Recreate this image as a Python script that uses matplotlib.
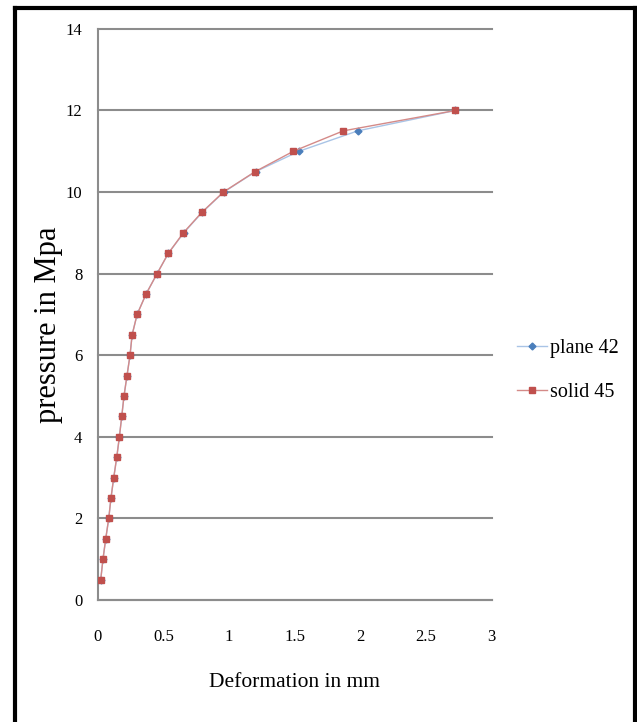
import matplotlib.pyplot as plt
from matplotlib.lines import Line2D

# pressure steps (Mpa)
pressure = [0.5, 1, 1.5, 2, 2.5, 3, 3.5, 4, 4.5, 5, 5.5, 6,
            6.5, 7, 7.5, 8, 8.5, 9, 9.5, 10, 10.5, 11, 11.5, 12]

# deformation (mm)
solid_45 = [0.023, 0.040, 0.061, 0.084, 0.101, 0.122, 0.145, 0.165,
            0.183, 0.200, 0.223, 0.246, 0.262, 0.300, 0.368, 0.452,
            0.538, 0.652, 0.792, 0.957, 1.198, 1.490, 1.870, 2.724]
plane_42 = [0.023, 0.040, 0.061, 0.084, 0.101, 0.122, 0.145, 0.165,
            0.183, 0.200, 0.223, 0.246, 0.262, 0.300, 0.368, 0.452,
            0.538, 0.655, 0.795, 0.960, 1.202, 1.533, 1.980, 2.724]

x_ticks = [0, 0.5, 1, 1.5, 2, 2.5, 3]
x_tick_labels = ['0', '0.5', '1', '1.5', '2', '2.5', '3']
y_ticks = [0, 2, 4, 6, 8, 10, 12, 14]

plt.rcParams['font.family'] = ['Liberation Serif', 'DejaVu Serif']

fig = plt.figure(figsize=(6.37, 7.22), dpi=100)
ax = fig.add_axes([0.1534, 0.169, 0.6185, 0.791])

grid_col = '#8c8c8c'
ax.plot(plane_42, pressure, color='#a9c4e6', linewidth=1.0, marker='D',
        markersize=3.5, markerfacecolor='#4a7ebb', markeredgecolor='#4a7ebb',
        label='plane 42', zorder=3)
ax.plot(solid_45, pressure, color='#d48a88', linewidth=1.0, marker='s',
        markersize=5, markerfacecolor='#c0504d', markeredgecolor='#c0504d',
        label='solid 45', zorder=4)

ax.set_xlim(0, 3)
ax.set_ylim(0, 14)
ax.set_xticks(x_ticks)
ax.set_xticklabels(x_tick_labels)
ax.set_yticks(y_ticks)
ax.tick_params(axis='both', length=0, labelsize=12)
ax.tick_params(axis='x', pad=21)
ax.tick_params(axis='y', pad=11)

ax.yaxis.grid(True, color=grid_col, linewidth=1.5)
for gl in ax.get_ygridlines():
    gl.set_clip_on(False)
ax.set_axisbelow(True)
for s in ['top', 'right']:
    ax.spines[s].set_visible(False)
for s in ['left', 'bottom']:
    ax.spines[s].set_color(grid_col)
    ax.spines[s].set_linewidth(1.5)

ax.set_xlabel('Deformation in mm', fontsize=15.5, va='center')
ax.xaxis.set_label_coords(0.5, -0.145)
ax.set_ylabel('pressure in Mpa', fontsize=22, va='center')
ax.yaxis.set_label_coords(-0.126, 0.482)

ax.legend(loc='center left', bbox_to_anchor=(1.065, 0.402), frameon=False,
          fontsize=14.5, handlelength=1.45, handletextpad=0.15,
          labelspacing=1.25, borderpad=0, borderaxespad=0)

# black frame around the picture (no bottom edge)
fig.add_artist(Line2D([0.0235, 0.0235], [0, 0.9895], color='black', linewidth=3))
fig.add_artist(Line2D([0.0235, 0.9976], [0.9895, 0.9895], color='black', linewidth=3))
fig.add_artist(Line2D([0.9976, 0.9976], [0, 0.9895], color='black', linewidth=3))

plt.savefig('out.png', dpi=100)
